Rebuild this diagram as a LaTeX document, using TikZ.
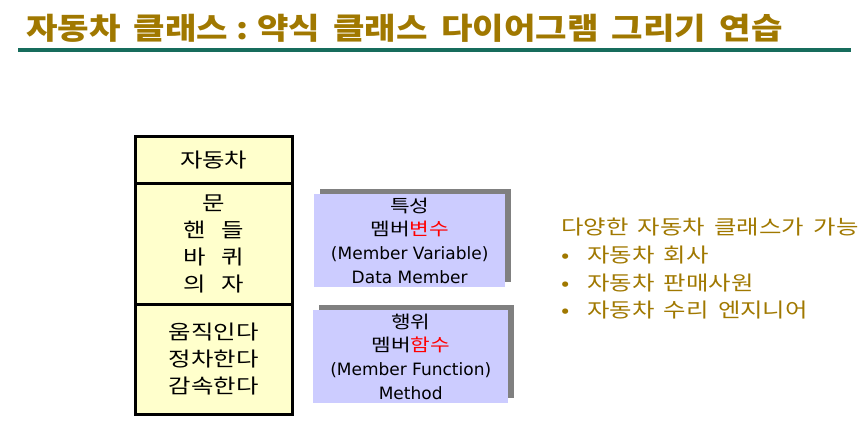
\documentclass[tikz,border=0pt]{standalone}
\usepackage{fontspec}
\setmainfont[FakeStretch=1.22]{Noto Sans CJK KR}
\newfontfamily\titlefont[FakeStretch=1.14,WordSpace=1.7]{Noto Sans CJK KR}
\newfontfamily\rightfont[FakeStretch=1.22,WordSpace=1.7]{Noto Sans CJK KR}
\newfontfamily\latinf{DejaVu Sans}
\usetikzlibrary{shadows}
\definecolor{gold}{RGB}{160,120,0}
\definecolor{tealline}{RGB}{22,108,92}
\definecolor{lyellow}{RGB}{255,255,204}
\definecolor{lblue}{RGB}{204,204,255}
\begin{document}
\begin{tikzpicture}[x=1pt,y=-1pt,
  sect/.style={draw=black, line width=2.5pt, fill=lyellow, anchor=north west,
    inner sep=0pt, align=center, minimum width=157pt,
    font=\fontsize{20}{27}\selectfont},
  bluebox/.style={fill=lblue, anchor=north west, inner sep=0pt, align=center,
    minimum height=93pt, font=\fontsize{17.5}{23.7}\selectfont,
    drop shadow={shadow xshift=5.5pt, shadow yshift=5.5pt, fill=gray, opacity=1}},
  titletext/.style={anchor=base west, inner sep=0pt, text=gold,
    font=\titlefont\fontsize{30}{36}\selectfont\bfseries},
  righttext/.style={anchor=north west, inner sep=0pt, text=gold, align=left,
    font=\rightfont\fontsize{20}{27.7}\selectfont},
]
\useasboundingbox (0,0) rectangle (866,444);
\node[titletext] (title) at (26,40)
  {자동차 클래스\hspace{8pt}:\hspace{9pt}약식 클래스 다이어그램 그리기 연습};
\draw[tealline, line width=3.5pt] (18,50) coordinate (l1) -- (851,50) coordinate (l2);

\node[sect, minimum height=47pt] (cname) at (134,135) {자동차};
\node[sect, minimum height=121pt] (attrs) at (134,182)
  {문\\핸\hspace{15pt}들\\바\hspace{15pt}퀴\\의\hspace{15pt}자};
\node[sect, minimum height=110pt] (ops) at (134,303) {움직인다\\정차한다\\감속한다};

\node[bluebox, minimum width=191pt] (vars) at (314,194)
  {특성\\멤버\textcolor{red}{변수}\\{\latinf\fontsize{17}{23.7}\selectfont (Member Variable)}\\{\latinf\fontsize{17}{23.7}\selectfont Data Member}};
\node[bluebox, minimum width=195pt] (funcs) at (313,310)
  {행위\\멤버\textcolor{red}{함수}\\{\latinf\fontsize{17}{23.7}\selectfont (Member Function)}\\{\latinf\fontsize{17}{23.7}\selectfont Method}};

\node[righttext] (uses) at (561,218)
  {다양한 자동차 클래스가 가능\\
   \makebox[26pt][l]{•}자동차 회사\\
   \makebox[26pt][l]{•}자동차 판매사원\\
   \makebox[26pt][l]{•}자동차 수리 엔지니어};
\end{tikzpicture}
\end{document}
